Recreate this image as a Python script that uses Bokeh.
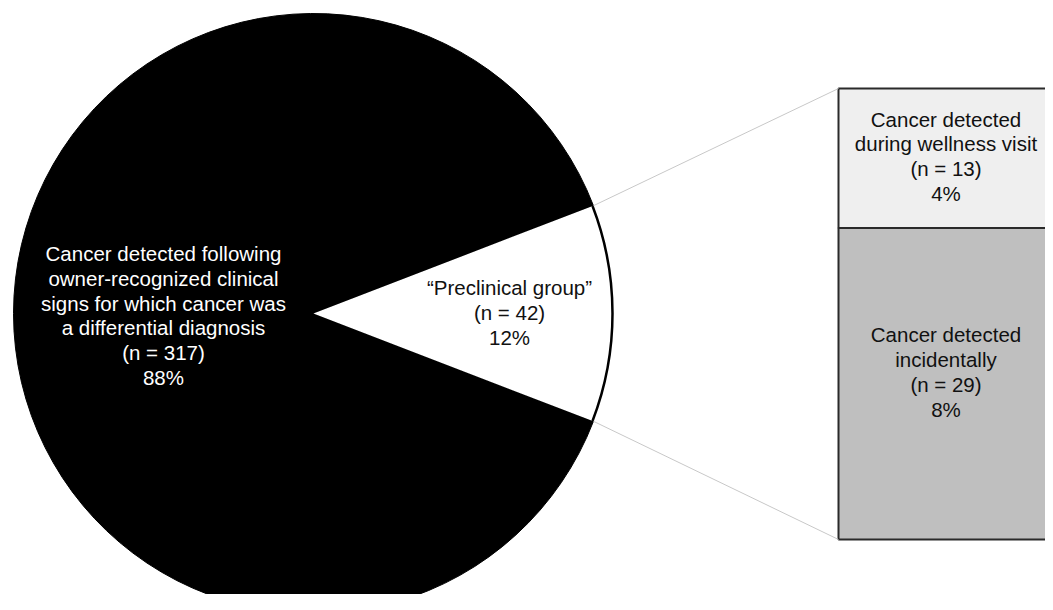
import numpy as np
from bokeh.plotting import figure
from bokeh.models import Range1d
from bokeh.core.properties import value
from bokeh.embed import file_html
from bokeh.resources import INLINE

# ---- data ----
pie_labels = [
    "Cancer detected following\nowner-recognized clinical\nsigns for which cancer was\na differential diagnosis\n(n = 317)\n88%",
    "\u201cPreclinical group\u201d\n(n = 42)\n12%",
]
pie_counts = [317, 42]
bar_labels = [
    "Cancer detected\nduring wellness visit\n(n = 13)\n4%",
    "Cancer detected\nincidentally\n(n = 29)\n8%",
]
bar_counts = [13, 29]

# ---- layout (pixel-like data units) ----
W, H = 1045, 594
p = figure(width=W, height=H, output_backend="svg", toolbar_location=None,
           x_range=Range1d(0, W), y_range=Range1d(0, H),
           min_border=0)
p.axis.visible = False
p.grid.visible = False
p.outline_line_color = None
p.background_fill_color = "white"

def Y(py):
    return H - py

cx, cy, r = 313, Y(313), 300
total = sum(pie_counts)
pre_angle = 2 * np.pi * pie_counts[1] / total
a0 = -pre_angle / 2
a1 = pre_angle / 2

# black main slice
p.wedge(x=cx, y=cy, radius=r, start_angle=a1, end_angle=a0 + 2 * np.pi,
        fill_color="black", line_color="black", line_width=1)
# white preclinical slice
p.wedge(x=cx, y=cy, radius=r, start_angle=a0, end_angle=a1,
        fill_color="white", line_color=None)
p.arc(x=cx, y=cy, radius=r - 1, start_angle=a0, end_angle=a1,
      line_color="black", line_width=2.5)

# bar of pie
bx0, bx1 = 838, 1053
btop, bbot = Y(88), Y(539)
bh = btop - bbot
btotal = sum(bar_counts)
seg_tops = [btop, btop - bh * bar_counts[0] / btotal]
seg_bots = [btop - bh * bar_counts[0] / btotal, bbot]
p.quad(left=[bx0, bx0], right=[bx1, bx1], top=seg_tops, bottom=seg_bots,
       fill_color=["#efefef", "#bfbfbf"], line_color="#2a2a2a", line_width=2)

# connector lines
ex = cx + r * np.cos(a1)
ey_top = cy + r * np.sin(a1)
ey_bot = cy + r * np.sin(a0)
p.segment(x0=[ex, ex], y0=[ey_top, ey_bot], x1=[bx0, bx0], y1=[btop, bbot],
          line_color="#c8c8c8", line_width=1)

font = value("Liberation Sans")
fs = "20.5px"
lh = 1.08
# pie labels
p.text(x=[cx - 150], y=[cy - 2], text=[pie_labels[0]], text_color="white",
       text_font=font, text_font_size=fs, text_align="center",
       text_baseline="middle", text_line_height=lh)
p.text(x=[cx + 196], y=[cy + 1], text=[pie_labels[1]], text_color="#111111",
       text_font=font, text_font_size=fs, text_align="center",
       text_baseline="middle", text_line_height=lh)
# bar labels
bcx = (bx0 + bx1) / 2
p.text(x=[bcx, bcx],
       y=[(seg_tops[0] + seg_bots[0]) / 2 + 2, (seg_tops[1] + seg_bots[1]) / 2 + 12],
       text=bar_labels, text_color="#111111",
       text_font=font, text_font_size=fs, text_align="center",
       text_baseline="middle", text_line_height=lh)

open("out.html", "w").write(file_html(p, INLINE))
